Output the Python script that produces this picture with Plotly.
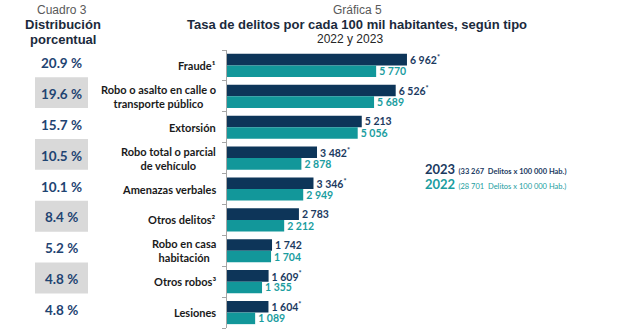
import plotly.graph_objects as go

categories = ["Fraude¹", "Robo o asalto en calle o<br>transporte público", "Extorsión",
              "Robo total o parcial<br>de vehículo", "Amenazas verbales", "Otros delitos²",
              "Robo en casa<br>habitación", "Otros robos³", "Lesiones"]
v2023 = [6962, 6526, 5213, 3482, 3346, 2783, 1742, 1609, 1604]
v2022 = [5770, 5689, 5056, 2878, 2949, 2212, 1704, 1355, 1089]
sig2023 = [True, True, False, True, True, False, False, True, True]
pct = ["20.9 %", "19.6 %", "15.7 %", "10.5 %", "10.1 %", "8.4 %", "5.2 %", "4.8 %", "4.8 %"]
shaded = [False, True, False, True, False, True, False, True, False]
total2023 = "33 267"
total2022 = "28 701"

C23 = "#0d3559"
C22 = "#12979a"
T23 = "#1b3a5f"
T22 = "#1a9da0"
PCT = "#1f4472"
LAB = "Lato"
ARIAL = "Liberation Sans"

def fmt(v):
    return f"{v:,}".replace(",", " ")

y = list(range(len(categories)))
txt23 = [fmt(v) + ("<sup>*</sup>" if s else "") for v, s in zip(v2023, sig2023)]
txt22 = [fmt(v) for v in v2022]

fig = go.Figure()
fig.add_trace(go.Bar(y=y, x=v2023, orientation="h", marker=dict(color=C23, line=dict(width=0)),
                     text=txt23, textposition="outside", cliponaxis=False, constraintext="none",
                     textfont=dict(family=LAB, size=10.5, color=T23, weight="bold"), name="2023"))
fig.add_trace(go.Bar(y=y, x=v2022, orientation="h", marker=dict(color=C22, line=dict(width=0)),
                     text=txt22, textposition="outside", cliponaxis=False, constraintext="none",
                     textfont=dict(family=LAB, size=10.5, color=T22, weight="bold"), name="2022"))

W = 400.0
def px(xpix):
    return (xpix - 227) / W
def py(ypix):
    return (328 - ypix) / 278.0

ann = []
shapes = []
for i, (c, p, s) in enumerate(zip(categories, pct, shaded)):
    ann.append(dict(x=px(218), y=i, xref="paper", yref="y", text=c, showarrow=False,
                    xanchor="right", yanchor="middle", align="center",
                    font=dict(family=LAB, size=11, color="#1a1a1a", weight="bold")))
    ann.append(dict(x=px(61.5), y=i - 0.08, xref="paper", yref="y", text=p, showarrow=False,
                    xanchor="center", yanchor="middle",
                    font=dict(family=LAB, size=13.5, color=PCT, weight="bold")))
    if s:
        shapes.append(dict(type="rect", xref="paper", yref="y", x0=px(35), x1=px(88),
                           y0=i - 0.62, y1=i + 0.38, fillcolor="#d9d9d9", line=dict(width=0),
                           layer="below"))

ann += [
    dict(x=px(61.5), y=py(9.5), xref="paper", yref="paper", text="Cuadro 3", showarrow=False,
         xanchor="center", yanchor="middle", font=dict(family=ARIAL, size=12, color="#595959")),
    dict(x=px(63), y=py(25), xref="paper", yref="paper", text="<b>Distribución</b>", showarrow=False,
         xanchor="center", yanchor="middle", font=dict(family=ARIAL, size=13, color="#1b2a3c")),
    dict(x=px(63), y=py(39.5), xref="paper", yref="paper", text="<b>porcentual</b>", showarrow=False,
         xanchor="center", yanchor="middle", font=dict(family=ARIAL, size=13, color="#1b2a3c")),
    dict(x=px(357), y=py(10), xref="paper", yref="paper", text="Gráfica 5", showarrow=False,
         xanchor="center", yanchor="middle", font=dict(family=ARIAL, size=12, color="#595959")),
    dict(x=px(357), y=py(25), xref="paper", yref="paper",
         text="<b>Tasa de delitos por cada 100 mil habitantes, según tipo</b>", showarrow=False,
         xanchor="center", yanchor="middle", font=dict(family=ARIAL, size=13, color="#1b2a3c")),
    dict(x=px(350), y=py(38.5), xref="paper", yref="paper", text="2022 y 2023", showarrow=False,
         xanchor="center", yanchor="middle", font=dict(family=ARIAL, size=12, color="#262626")),
    dict(x=px(423), y=py(169), xref="paper", yref="paper",
         text=f"<b>2023</b> <span style='font-size:7.5px'><b>({total2023}  Delitos x 100 000 Hab.)</b></span>",
         showarrow=False, xanchor="left", yanchor="middle",
         font=dict(family=LAB, size=13, color=T23)),
    dict(x=px(423), y=py(184), xref="paper", yref="paper",
         text=f"<b>2022</b> <span style='font-size:7.5px'>({total2022}  Delitos x 100 000 Hab.)</span>",
         showarrow=False, xanchor="left", yanchor="middle",
         font=dict(family=LAB, size=13, color=T22)),
]

fig.update_layout(
    width=628, height=331,
    margin=dict(l=227, r=1, t=50, b=3, pad=0),
    paper_bgcolor="white", plot_bgcolor="white",
    barmode="group", bargap=0.25, bargroupgap=0,
    showlegend=False,
    annotations=ann, shapes=shapes,
    xaxis=dict(range=[0, W / 0.02585], visible=False, fixedrange=True),
    yaxis=dict(range=[len(categories) - 0.5, -0.5], tickmode="array",
               tickvals=[i - 0.5 for i in range(len(categories) + 1)],
               showticklabels=False,
               ticks="outside", ticklen=4, tickcolor="#a6a6a6", tickwidth=1,
               showline=True, linecolor="#a6a6a6", linewidth=1,
               showgrid=False, zeroline=False, fixedrange=True),
)

fig.write_html("out.html")
